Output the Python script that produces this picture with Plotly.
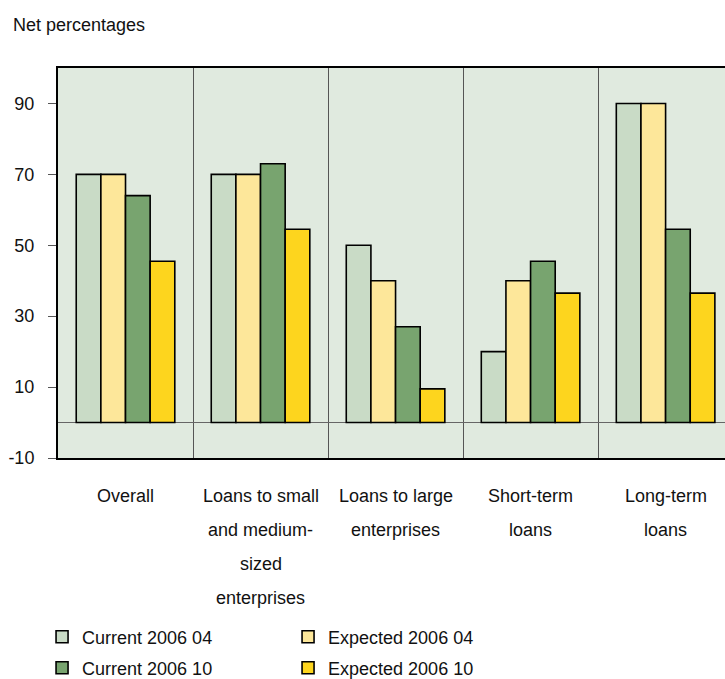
import plotly.graph_objects as go

categories = ["Overall", "Loans to small<br>and medium-<br>sized<br>enterprises",
              "Loans to large<br>enterprises", "Short-term<br>loans", "Long-term<br>loans"]
series_names = ["Current 2006 04", "Expected 2006 04", "Current 2006 10", "Expected 2006 10"]
current_0604 = [70, 70, 50, 20, 90]
expected_0604 = [70, 70, 40, 40, 90]
current_0610 = [64, 73, 27, 45.5, 54.5]
expected_0610 = [45.5, 54.5, 9.5, 36.5, 36.5]
series_values = [current_0604, expected_0604, current_0610, expected_0610]
colors = ["#c9dbc6", "#fde79a", "#78a46f", "#fdd51e"]
legend_ids = ["legend", "legend", "legend2", "legend2"]
y_ticks = [90, 70, 50, 30, 10, -10]
y_tick_labels = ["90", "70", "50", "30", "10", "-10"]

FONT = "Liberation Sans, Arial, sans-serif"
fig = go.Figure()
for name, vals, col, lg in zip(series_names, series_values, colors, legend_ids):
    fig.add_trace(go.Bar(x=categories, y=vals, name=name, marker_color=col,
                         marker_line_color="#000000", marker_line_width=1.6,
                         legend=lg))

# multi-line category labels
for cat in categories:
    for i, line in enumerate(cat.split("<br>")):
        fig.add_annotation(x=cat, xref="x", yref="paper", y=-0.097 - i * 34 / 390,
                           text=line, showarrow=False, yanchor="middle",
                           font=dict(family=FONT, size=18, color="#111"))

fig.add_annotation(text="Net percentages", xref="paper", yref="paper",
                   x=-0.07, y=1.11, xanchor="left", yanchor="middle", showarrow=False,
                   font=dict(family=FONT, size=18, color="#111"))

legend_common = dict(orientation="h", xref="container", yref="container",
                     xanchor="left", yanchor="middle", x=0.058,
                     entrywidth=201, entrywidthmode="pixels",
                     font=dict(family=FONT, size=18, color="#111"),
                     bgcolor="rgba(0,0,0,0)", borderwidth=0, traceorder="normal")
fig.update_layout(
    width=725, height=679,
    margin=dict(l=58, r=0, t=68, b=221),
    paper_bgcolor="white", plot_bgcolor="#e0eadf",
    barmode="group", bargap=0.27, bargroupgap=0,
    font=dict(family=FONT, size=18, color="#111"),
    legend=dict(y=1 - 637 / 679, **legend_common),
    legend2=dict(y=1 - 668 / 679, **legend_common),
    showlegend=True,
)
fig.update_xaxes(range=[-0.5, 4.44], tickson="boundaries", showgrid=True,
                 gridcolor="#555555", gridwidth=1.3, showticklabels=False, ticks="",
                 showline=True, linecolor="#000000", linewidth=2, mirror=True,
                 zeroline=False)
fig.update_yaxes(range=[-10, 100], tickvals=y_ticks, ticktext=y_tick_labels,
                 showgrid=False,
                 zeroline=True, zerolinecolor="#666666", zerolinewidth=1.2,
                 showline=True, linecolor="#000000", linewidth=2, mirror=False,
                 ticks="outside", ticklen=8, tickcolor="#555555", tickwidth=1.2,
                 ticklabelstandoff=10,
                 tickfont=dict(family=FONT, size=18, color="#111"))
fig.write_html("out.html")
